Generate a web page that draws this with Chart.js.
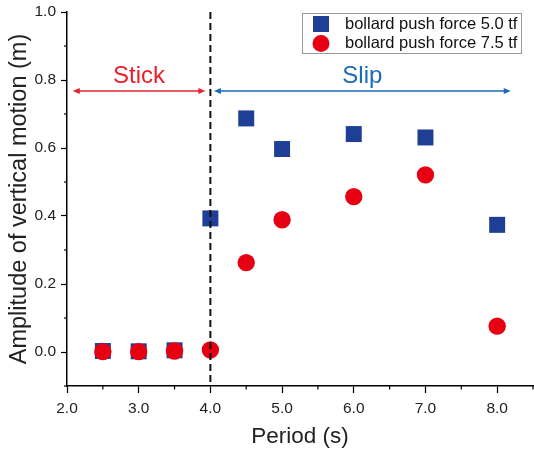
<!DOCTYPE html>
<html>
<head>
<meta charset="utf-8">
<script src="https://cdn.jsdelivr.net/npm/chart.js@4.4.1/dist/chart.umd.min.js"></script>
<style>
  html, body { margin: 0; padding: 0; background: #fff; }
  #wrap { width: 534px; height: 450px; }
</style>
</head>
<body>
<div id="wrap"><canvas id="chart"></canvas></div>
<script>
// Data
const periods = [2.5, 3.0, 3.5, 4.0, 4.5, 5.0, 6.0, 7.0, 8.0];
const force50 = [0.003, 0.002, 0.005, 0.393, 0.687, 0.597, 0.641, 0.631, 0.374];
const force75 = [0.001, 0.001, 0.003, 0.006, 0.263, 0.389, 0.457, 0.521, 0.076];
const seriesLabels = ["bollard push force 5.0 tf", "bollard push force 7.5 tf"];

// Stick / slip regions (data units)
const boundary = 4.0;
const stickRange = [2.08, 3.93];
const slipRange = [4.05, 8.19];
const arrowLevel = 0.768;

const FONT = "'Liberation Sans', Arial, sans-serif";
const BLUE = "#1f3f96";
const RED = "#e60012";
const STICK_COLOR = "#e8202a";
const SLIP_COLOR = "#1a6bb8";

function toPoints(ys) {
  return periods.map((p, i) => ({ x: p, y: ys[i] }));
}

function isMajorY(v) {
  const k = Math.round(v * 10);
  return k >= 0 && k % 2 === 0;
}

function isMajorX(v) {
  return Math.abs(v - Math.round(v)) < 1e-6 && v <= 8.01;
}

function arrow(ctx, x1, x2, y, color) {
  ctx.save();
  ctx.strokeStyle = color;
  ctx.fillStyle = color;
  ctx.lineWidth = 1.5;
  ctx.beginPath();
  ctx.moveTo(x1 + 4, y);
  ctx.lineTo(x2 - 4, y);
  ctx.stroke();
  [[x1, 1], [x2, -1]].forEach(([x, d]) => {
    ctx.beginPath();
    ctx.moveTo(x, y);
    ctx.lineTo(x + d * 7, y - 3);
    ctx.lineTo(x + d * 7, y + 3);
    ctx.closePath();
    ctx.fill();
  });
  ctx.restore();
}

// minor ticks, dashed boundary, arrows, legend
const extras = {
  id: "extras",
  afterDatasetsDraw(chart) {
    const ctx = chart.ctx;
    const xs = chart.scales.x;
    const ys = chart.scales.y;
    const area = chart.chartArea;

    ctx.save();
    ctx.strokeStyle = "#000";
    ctx.lineWidth = 1.2;
    xs.ticks.forEach(t => {
      if (!isMajorX(t.value)) {
        const px = xs.getPixelForValue(t.value);
        ctx.beginPath();
        ctx.moveTo(px, area.bottom);
        ctx.lineTo(px, area.bottom + 3.5);
        ctx.stroke();
      }
    });
    ys.ticks.forEach(t => {
      if (!isMajorY(t.value)) {
        const py = ys.getPixelForValue(t.value);
        ctx.beginPath();
        ctx.moveTo(area.left, py);
        ctx.lineTo(area.left - 3, py);
        ctx.stroke();
      }
    });

    // boundary line
    const bx = xs.getPixelForValue(boundary);
    ctx.strokeStyle = "#111";
    ctx.lineWidth = 2;
    ctx.setLineDash([7, 4]);
    ctx.beginPath();
    ctx.moveTo(bx, area.top);
    ctx.lineTo(bx, area.bottom);
    ctx.stroke();
    ctx.setLineDash([]);
    ctx.restore();

    // arrows and labels
    const ay = ys.getPixelForValue(arrowLevel);
    arrow(ctx, xs.getPixelForValue(stickRange[0]), xs.getPixelForValue(stickRange[1]), ay, STICK_COLOR);
    arrow(ctx, xs.getPixelForValue(slipRange[0]), xs.getPixelForValue(slipRange[1]), ay, SLIP_COLOR);
    ctx.save();
    ctx.font = "24px " + FONT;
    ctx.textAlign = "center";
    ctx.textBaseline = "alphabetic";
    ctx.fillStyle = STICK_COLOR;
    ctx.fillText("Stick", xs.getPixelForValue((stickRange[0] + stickRange[1]) / 2), ay - 8);
    ctx.fillStyle = SLIP_COLOR;
    ctx.fillText("Slip", xs.getPixelForValue((slipRange[0] + slipRange[1]) / 2), ay - 8);
    ctx.restore();

    // legend
    ctx.save();
    ctx.fillStyle = "#fff";
    ctx.fillRect(302, 13, 220, 41);
    ctx.strokeStyle = "#999";
    ctx.lineWidth = 1;
    ctx.strokeRect(302.5, 13.5, 219, 40);
    ctx.fillStyle = BLUE;
    ctx.fillRect(313, 16, 16, 16);
    ctx.fillStyle = RED;
    ctx.beginPath();
    ctx.arc(321, 43.5, 8.5, 0, Math.PI * 2);
    ctx.fill();
    ctx.fillStyle = "#111";
    ctx.font = "16.5px " + FONT;
    ctx.textBaseline = "middle";
    ctx.fillText(seriesLabels[0], 345, 24.5);
    ctx.fillText(seriesLabels[1], 345, 43.5);
    ctx.restore();
  }
};

new Chart(document.getElementById("chart"), {
  type: "scatter",
  data: {
    datasets: [
      {
        label: seriesLabels[0],
        data: toPoints(force50),
        pointStyle: "rect",
        pointRadius: 11.3,
        pointHoverRadius: 11.3,
        backgroundColor: BLUE,
        borderColor: BLUE,
        borderWidth: 0,
        order: 1
      },
      {
        label: seriesLabels[1],
        data: toPoints(force75),
        pointStyle: "circle",
        pointRadius: 8.7,
        pointHoverRadius: 8.7,
        backgroundColor: RED,
        borderColor: RED,
        borderWidth: 0,
        order: 0
      }
    ]
  },
  options: {
    responsive: true,
    maintainAspectRatio: false,
    animation: false,
    layout: { autoPadding: false, padding: { top: 12, right: 1, left: 0, bottom: 0 } },
    plugins: {
      legend: { display: false },
      tooltip: { enabled: false }
    },
    scales: {
      x: {
        type: "linear",
        min: 2,
        max: 8.5,
        afterFit: s => { s.height = 64; s.paddingRight = 0; s.paddingLeft = 0; },
        ticks: {
          stepSize: 0.5,
          autoSkip: false,
          maxRotation: 0,
          padding: 6,
          color: "#222",
          font: { family: FONT, size: 15.5 },
          callback: v => isMajorX(v) ? v.toFixed(1) : ""
        },
        grid: {
          drawOnChartArea: false,
          tickLength: 7,
          tickWidth: 1.2,
          tickColor: c => isMajorX(c.tick.value) ? "#000" : "rgba(0,0,0,0)"
        },
        border: { display: true, color: "#000", width: 1.5 },
        title: {
          display: true,
          text: "Period (s)",
          color: "#222",
          font: { family: FONT, size: 22.5 },
          padding: { top: 0, bottom: 0 }
        }
      },
      y: {
        type: "linear",
        min: -0.1,
        max: 1.0,
        afterFit: s => { s.width = 67; s.paddingTop = 0; s.paddingBottom = 0; },
        ticks: {
          stepSize: 0.1,
          autoSkip: false,
          padding: 5,
          color: "#222",
          font: { family: FONT, size: 15.5 },
          callback: v => isMajorY(v) ? (Math.round(v * 10) / 10).toFixed(1) : ""
        },
        grid: {
          drawOnChartArea: false,
          tickLength: 6,
          tickWidth: 1.2,
          tickColor: c => isMajorY(c.tick.value) ? "#000" : "rgba(0,0,0,0)"
        },
        border: { display: true, color: "#000", width: 1.5 },
        title: {
          display: true,
          text: "Amplitude of vertical motion (m)",
          color: "#222",
          font: { family: FONT, size: 23.5 },
          padding: { top: 5, bottom: 0 }
        }
      }
    }
  },
  plugins: [extras]
});
</script>
</body>
</html>
